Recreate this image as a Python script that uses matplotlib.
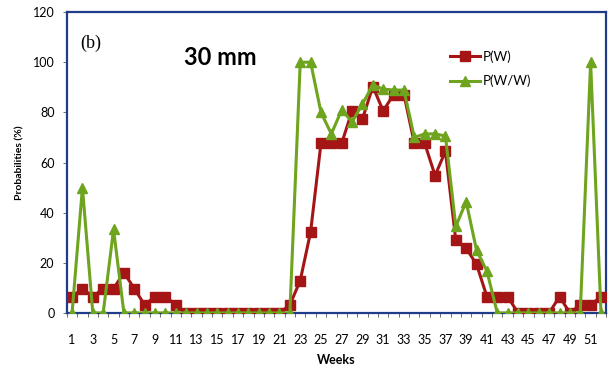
import matplotlib as mpl
mpl.use('Agg')
import numpy as np
import matplotlib.pyplot as plt

# weeks and probabilities (%)
weeks = list(range(1, 53))
p_w = [6.5, 9.7, 6.5, 9.7, 9.7, 16.1, 9.7, 3.2, 6.5, 6.5,
       3.2, 0, 0, 0, 0, 0, 0, 0, 0, 0,
       0, 3.2, 12.9, 32.3, 67.7, 67.7, 67.7, 80.6, 77.4, 90.3,
       80.6, 87.1, 87.1, 67.7, 67.7, 54.8, 64.5, 29.0, 25.8, 19.4,
       6.5, 6.5, 6.5, 0, 0, 0, 0, 6.5, 0, 3.2,
       3.2, 6.5]
p_ww = [0, 50, 0, 0, 33.3, 0, 0, 0, 0, 0,
        0, 0, 0, 0, 0, 0, 0, 0, 0, 0,
        0, 0, 100, 100, 80.0, 71.4, 81.0, 76.2, 83.3, 90.9,
        89.3, 88.9, 88.9, 70.0, 71.4, 71.4, 70.6, 34.5, 44.4, 25.0,
        16.7, 0, 0, 0, 0, 0, 0, 0, 0, 0,
        100, 0]
xtick_labels = [str(w) for w in range(1, 53, 2)]

red = '#A51515'
green = '#6FA41E'
spine_col = '#1F3C88'

plt.rcParams['font.family'] = ['Lato', 'DejaVu Sans']

fig = plt.figure(figsize=(6.08, 3.66), dpi=100)
ax = fig.add_axes([0.110, 0.145, 0.887, 0.822])

ax.plot(weeks, p_w, color=red, lw=2.2, marker='s', ms=7, label='P(W)', zorder=3)
ax.plot(weeks, p_ww, color=green, lw=2.2, marker='^', ms=7, label='P(W/W)', zorder=4)

ax.set_xlim(0.5, 52.5)
ax.set_ylim(0, 120)
ax.set_yticks(np.arange(0, 121, 20))
ax.set_xticks(range(1, 53, 2))
ax.set_xticklabels(xtick_labels)
ax.set_xticks(np.arange(0.5, 53, 1), minor=True)
ax.tick_params(axis='x', which='major', length=0, labelsize=9, pad=15)
ax.tick_params(axis='x', which='minor', length=3, width=0.6, color='#555555', direction='out')
ax.tick_params(axis='y', length=3, width=0.6, color='#555555', labelsize=9, pad=6)

for s in ax.spines.values():
    s.set_color(spine_col)
    s.set_linewidth(1.6)

ax.set_xlabel('Weeks', fontsize=9, fontweight='bold', labelpad=6)
ax.set_ylabel('Probabilities (%)', fontsize=7.5, fontweight='bold', labelpad=6)

ax.text(0.024, 0.895, '(b)', transform=ax.transAxes, fontsize=13,
        family='Liberation Serif', va='center')
ax.text(0.218, 0.85, '30 mm', transform=ax.transAxes, fontsize=17,
        fontweight='bold', va='center')

ax.legend(loc='upper left', bbox_to_anchor=(0.70, 0.89), frameon=False,
          fontsize=9.5, handlelength=2.3, handletextpad=0.2, labelspacing=0.9,
          borderaxespad=0)

fig.savefig('out.png', dpi=100)
